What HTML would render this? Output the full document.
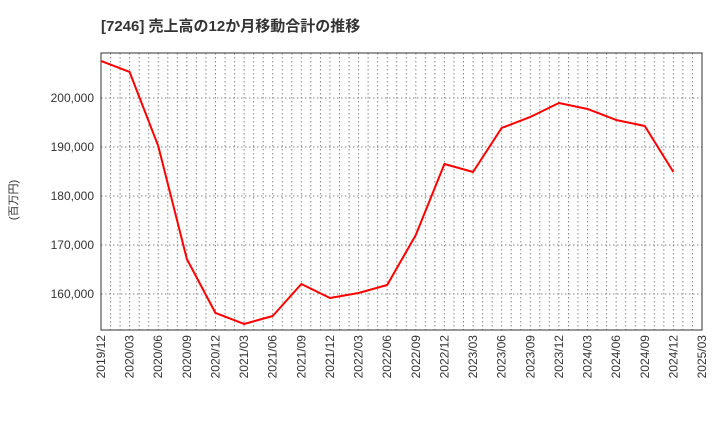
<!DOCTYPE html>
<html><head><meta charset="utf-8"><style>
body{margin:0;background:#fff;}
svg text{font-family:"Liberation Sans","Noto Sans CJK JP",sans-serif;}
</style></head><body>
<svg id="chart" width="720" height="440">
<text x="101" y="31" font-size="15" font-weight="bold" fill="#333">[7246]  売上高の12か月移動合計の推移</text>
<text transform="translate(17,200) rotate(-90)" font-size="11" fill="#333" text-anchor="middle">(百万円)</text>
<g id="grid"></g><g id="axes"></g><g id="series"></g>
</svg>
<script>
const categories=["2019/12","2020/03","2020/06","2020/09","2020/12","2021/03","2021/06","2021/09","2021/12","2022/03","2022/06","2022/09","2022/12","2023/03","2023/06","2023/09","2023/12","2024/03","2024/06","2024/09","2024/12","2025/03"];
const values=[207551,205306,190204,167143,156122,153878,155510,162041,159184,160204,161837,172041,186531,184898,193878,196122,198980,197755,195510,194286,184898];
const yTicks=[160000,170000,180000,190000,200000];
const L=101,R=702,T=53,B=330,yMin=152650,yMax=209180;
const ns="http://www.w3.org/2000/svg";
const xs=i=>L+i*(R-L)/(categories.length-1);
const ys=v=>B-(v-yMin)/(yMax-yMin)*(B-T);
function mk(t,a,p){const e=document.createElementNS(ns,t);for(const k in a)e.setAttribute(k,a[k]);p.appendChild(e);return e;}
const g=document.getElementById('grid'),ax=document.getElementById('axes'),s=document.getElementById('series');
const nMonths=(categories.length-1)*3;
for(let m=1;m<nMonths;m++){const x=L+m*(R-L)/nMonths;
const l=mk('line',{x1:x,x2:x,y1:T,y2:B,stroke:'#888','stroke-dasharray':'1.5,2.5','stroke-width':1},g);

}
yTicks.forEach(v=>{const y=ys(v);
const l=mk('line',{x1:L,x2:R,y1:y,y2:y,stroke:'#888','stroke-dasharray':'1.5,2.5','stroke-width':1},g);


const t=mk('text',{x:L-7,y:y+4,'font-size':12,fill:'#333','text-anchor':'end'},ax);t.textContent=v.toLocaleString('en-US');

});
categories.forEach((c,i)=>{const x=xs(i);
const t=mk('text',{transform:`translate(${x+4},${B+5}) rotate(-90)`,'font-size':12,fill:'#333','text-anchor':'end'},ax);t.textContent=c;

});
const fr=mk('rect',{x:L,y:T,width:R-L,height:B-T,fill:'none',stroke:'#333','stroke-width':1},ax);


const p=mk('polyline',{points:values.map((v,i)=>xs(i)+','+ys(v)).join(' '),fill:'none',stroke:'#f00','stroke-width':2,'stroke-linejoin':'round'},s);


</script>
</body></html>
